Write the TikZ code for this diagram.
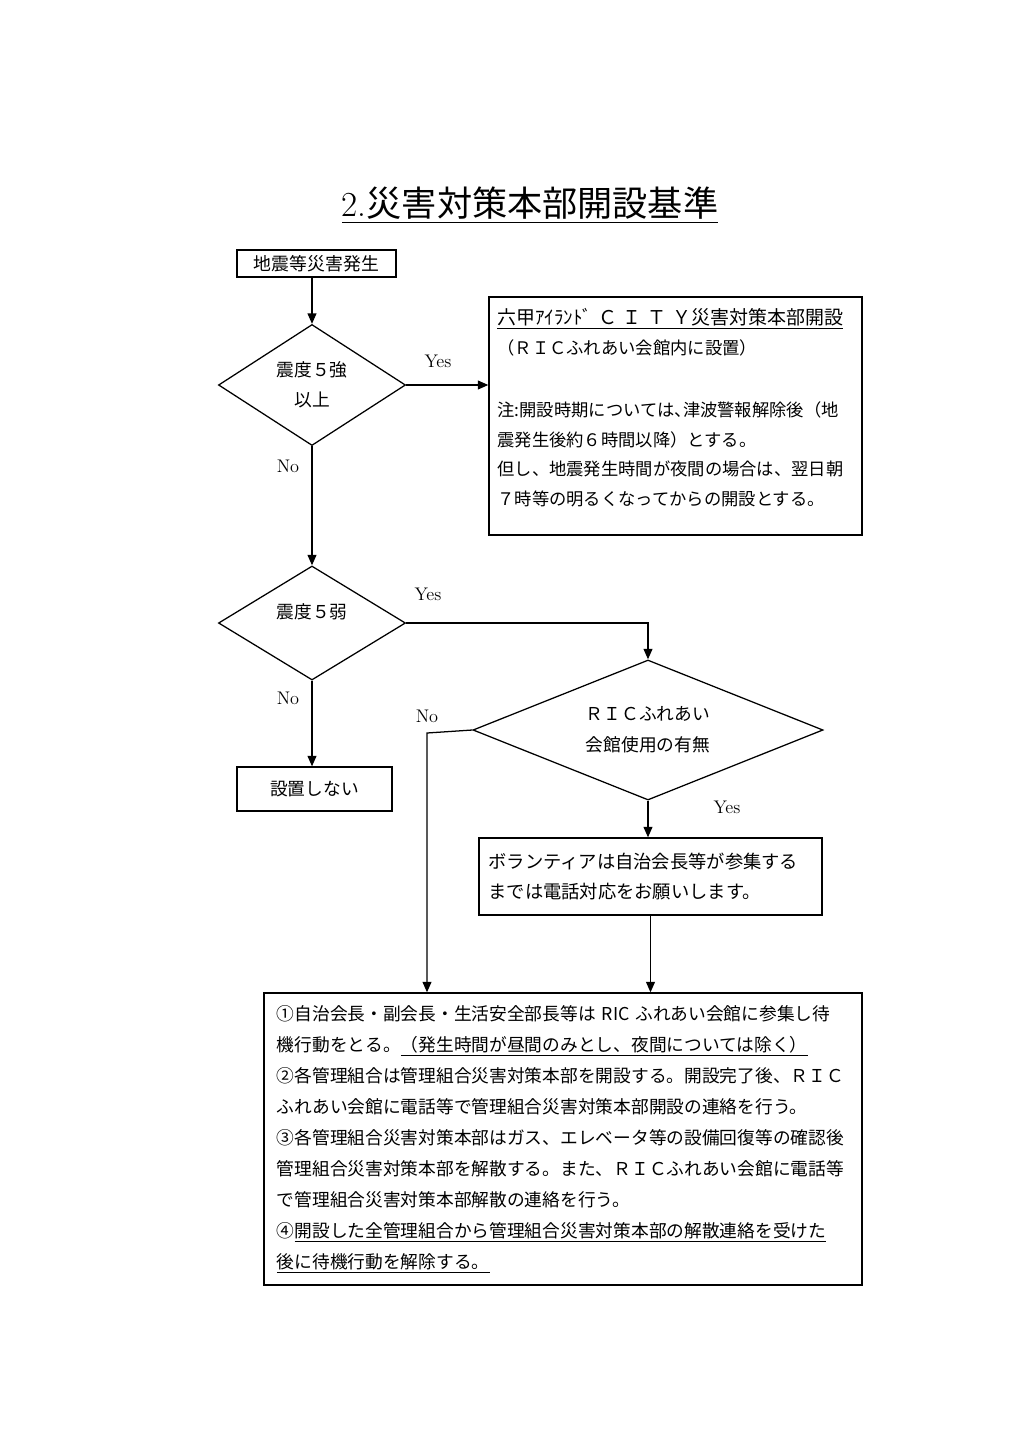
\documentclass[tikz,border=0pt]{standalone}
\usepackage{fontspec}
\newfontfamily\jp{Noto Sans CJK JP}
\newfontfamily\jphalt[RawFeature=+halt]{Noto Sans CJK JP}
\usetikzlibrary{shapes.geometric}
\usetikzlibrary{arrows.meta}

\begin{document}
\begin{tikzpicture}[x=0.025cm,y=-0.025cm,
  flowbox/.style={rectangle,draw=black,line width=0.9pt,inner sep=0pt},
  decision/.style={diamond,draw=black,line width=0.9pt,inner sep=0pt,align=center,font=\jp\fontsize{12.6pt}{21.3pt}\selectfont},
  yesno/.style={font=\fontsize{13pt}{15pt}\selectfont,text=black},
  flowarrow/.style={draw=black,line width=0.9pt,-{Triangle[length=2.6mm,width=2.2mm]}}]
\useasboundingbox (0,0) rectangle (1024,1449);

% title
\node[font=\fontsize{25pt}{30pt}\selectfont,text=black] (title) at (530,205) {\underline{2.{\jp 災害対策本部開設基準}}};

% left column
\node[flowbox,minimum width=3.975cm,minimum height=0.675cm,font=\jp\fontsize{12.7pt}{15pt}\selectfont] (quake) at (316.5,263.5) {地震等災害発生};
\node[decision,aspect=1.55,minimum width=4.675cm,minimum height=3.025cm] (strong) at (312,385) {震度５強\\以上};
\node[decision,aspect=1.65,minimum width=4.675cm,minimum height=2.85cm,text height=11pt,text depth=17pt] (weak) at (312,623) {震度５弱};
\node[flowbox,minimum width=3.875cm,minimum height=1.1cm,font=\jp\fontsize{12.6pt}{15pt}\selectfont] (nosetup) at (314.5,789) {設置しない};

% right column
\node[flowbox,minimum width=9.325cm,minimum height=5.95cm,text width=8.9cm,align=left,
  font=\jp\fontsize{12.3pt}{21.3pt}\selectfont] (cityhq) at (675.5,416) {%
{\fontsize{13.5pt}{21.3pt}\selectfont\underline{六甲ｱｲﾗﾝﾄﾞ Ｃ Ｉ Ｔ Ｙ災害対策本部開設}}\\
（ＲＩＣふれあい会館内に設置）\\[22.7pt]
注:開設時期については{\jphalt 、}津波警報解除後（地\\
震発生後約６時間以降）とする。\\
但し、地震発生時間が夜間の場合は、翌日朝\\
７時等の明るくなってからの開設とする。\rule[-0.45cm]{0pt}{0.45cm}};
\node[decision,aspect=2.5,minimum width=8.75cm,minimum height=3.5cm,font=\jp\fontsize{12.6pt}{22pt}\selectfont] (hall) at (648,730) {ＲＩＣふれあい\\会館使用の有無};
\node[flowbox,minimum width=8.575cm,minimum height=1.925cm,text width=8.1cm,align=left,
  font=\jp\fontsize{13pt}{22pt}\selectfont] (volunteer) at (650.5,876.5) {ボランティアは自治会長等が参集する\\までは電話対応をお願いします。};

% bottom box
\node[flowbox,minimum width=14.95cm,minimum height=7.3cm,text width=14.3cm,align=left,
  font=\jp\fontsize{12.6pt}{22.1pt}\selectfont] (standby) at (563,1139) {%
①自治会長・副会長・生活安全部長等は RIC ふれあい会館に参集し待\\
機行動をとる。\underline{（発生時間が昼間のみとし、夜間については除く）}\\
②各管理組合は管理組合災害対策本部を開設する。開設完了後、ＲＩＣ\\
ふれあい会館に電話等で管理組合災害対策本部開設の連絡を行う。\\
③各管理組合災害対策本部はガス、エレベータ等の設備回復等の確認後\\
管理組合災害対策本部を解散する。また、ＲＩＣふれあい会館に電話等\\
で管理組合災害対策本部解散の連絡を行う。\\
④\underline{開設した全管理組合から管理組合災害対策本部の解散連絡を受けた}\\
\underline{後に待機行動を解除する。}};

% connectors
\coordinate (nobend) at (427,733);
\draw[flowarrow] (quake.south -| strong.north) -- (strong.north);
\draw[flowarrow] (strong.east) -- (strong.east -| cityhq.west);
\draw[flowarrow] (strong.south) -- (weak.north);
\draw[flowarrow] (weak.east) -- (weak.east -| hall.north) -- (hall.north);
\draw[flowarrow] (weak.south) -- (weak.south |- nosetup.north);
\draw[flowarrow] (hall.west) -- (nobend) -- (nobend |- standby.north);
\draw[flowarrow] (hall.south) -- (hall.south |- volunteer.north);
\draw[flowarrow] (volunteer.south) -- (volunteer.south |- standby.north);

% labels
\node[yesno] (yesA) at (438,361) {Yes};
\node[yesno] (noA) at (288,466) {No};
\node[yesno] (yesB) at (428,594) {Yes};
\node[yesno] (noB) at (288,698) {No};
\node[yesno] (noC) at (427,716) {No};
\node[yesno] (yesC) at (727,807) {Yes};

\end{tikzpicture}
\end{document}
